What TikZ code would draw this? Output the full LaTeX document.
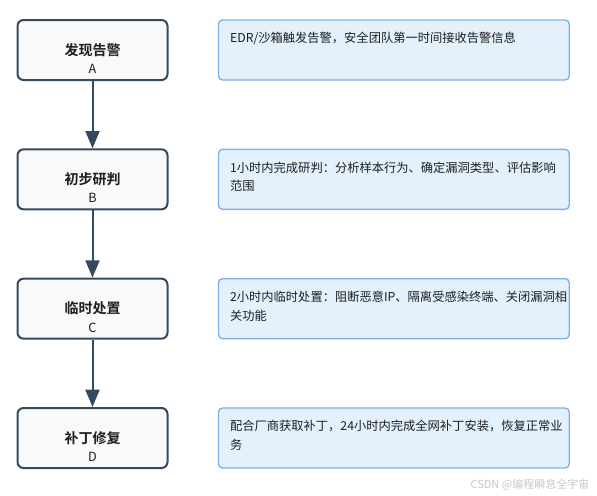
\documentclass[tikz,border=0pt]{standalone}
\usepackage{fontspec}
\setmainfont{Noto Sans CJK SC}[BoldFont={Noto Sans CJK SC Bold}]
\usetikzlibrary{positioning}
\usetikzlibrary{arrows.meta}

\definecolor{stepline}{HTML}{34495E}
\definecolor{stepfill}{HTML}{F8F9FA}
\definecolor{descline}{HTML}{7FB0E6}
\definecolor{descfill}{HTML}{E3F1FD}
\definecolor{inktext}{HTML}{1E1E1E}

\begin{document}
\begin{tikzpicture}
\tikzstyle{stepbox} = [draw=stepline, fill=stepfill, line width=1.5pt, rounded corners=4.5pt, minimum width=112.5pt, minimum height=45pt, align=center, text=inktext, font=\fontsize{10.5pt}{13pt}\selectfont\bfseries]
\tikzstyle{letter} = [text=inktext, font=\fontsize{9.5pt}{12pt}\selectfont, yshift=-14.25pt]
\tikzstyle{descbox} = [draw=descline, fill=descfill, line width=1pt, rounded corners=3pt, minimum width=263pt, minimum height=45pt]
\tikzstyle{desctext} = [inner sep=0pt, align=left, text=inktext, font=\fontsize{9.2pt}{14pt}\selectfont]
\tikzstyle{line} = [draw=stepline, line width=1.5pt, -{Triangle[width=10.5pt, length=13pt]}]

\useasboundingbox (0,0) rectangle (447.75pt,-372pt);

\node [stepbox, label={[letter]center:A}] (a) at (69.375pt,-37.5pt) {发现告警};
\node [stepbox, label={[letter]center:B}, below=50.5pt of a] (b) {初步研判};
\node [stepbox, label={[letter]center:C}, below=50.5pt of b] (c) {临时处置};
\node [stepbox, label={[letter]center:D}, below=50.5pt of c] (d) {补丁修复};

\node [descbox, right=37pt of a] (da) {};
\node [descbox, right=37pt of b] (db) {};
\node [descbox, right=37pt of c] (dc) {};
\node [descbox, right=37pt of d] (dd) {};

\node [desctext, below right=9.5pt and 9pt of da.north west, anchor=north west] (ta) {EDR/沙箱触发告警，安全团队第一时间接收告警信息};
\node [desctext, below right=9.5pt and 9pt of db.north west, anchor=north west] (tb) {1小时内完成研判：分析样本行为、确定漏洞类型、评估影响\\范围};
\node [desctext, below right=9.5pt and 9pt of dc.north west, anchor=north west] (tc) {2小时内临时处置：阻断恶意IP、隔离受感染终端、关闭漏洞相\\关功能};
\node [desctext, below right=9.5pt and 9pt of dd.north west, anchor=north west] (td) {配合厂商获取补丁，24小时内完成全网补丁安装，恢复正常业\\务};

\path [line] (a) -- (b);
\path [line] (b) -- (c);
\path [line] (c) -- (d);

\node [anchor=east, text=gray!45, font=\fontsize{8.25pt}{10pt}\selectfont] (mark) at (445.5pt,-363.75pt) {CSDN @编程瞬息全宇宙};
\end{tikzpicture}
\end{document}
